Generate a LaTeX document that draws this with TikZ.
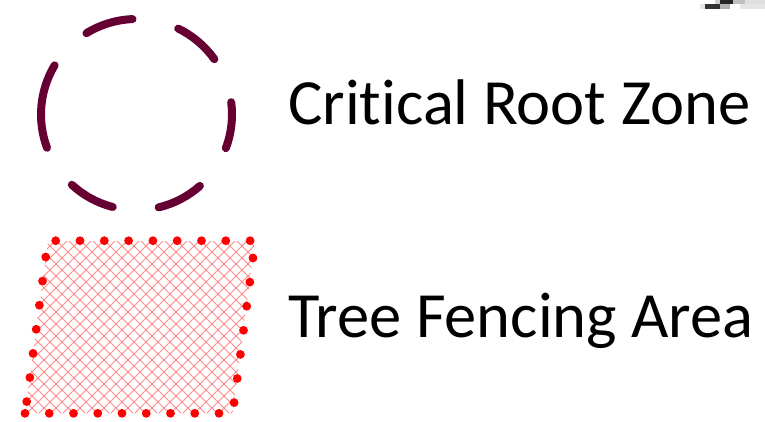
\documentclass[tikz,border=0pt]{standalone}
\usepackage{fontspec}
\setmainfont[RawFeature={-liga;-clig}]{Carlito}
\definecolor{maroon}{HTML}{660033}
\definecolor{dotred}{HTML}{FF0000}
\definecolor{hatch}{HTML}{FF8A8A}
\begin{document}
\begin{tikzpicture}[x=1pt,y=-1pt,
  zone/.style={draw=maroon,line width=8pt,line cap=round},
  fencedot/.style={fill=dotred},
  hatchline/.style={draw=hatch,line width=1pt},
  label/.style={anchor=base west,inner sep=0pt,font=\fontsize{64.5}{72}\selectfont}]
\useasboundingbox (0,0) rectangle (765,421);
% small grey smudge top right
\fill[gray!35] (715,0) rectangle (720,4);
\fill[black!85] (720,0) rectangle (733,4);
\fill[gray!50] (733,0) rectangle (745,4);
\fill[gray!25] (745,0) rectangle (765,4);
\fill[gray!20] (700,4) rectangle (705,9);
\fill[black!80] (705,4) rectangle (720,9);
\fill[gray!60] (720,4) rectangle (730,9);
\fill[gray!20] (740,4) rectangle (765,9);
% critical root zone circle
\coordinate (c) at (136.5,114.5);
\foreach \a/\b in {92.4/121.6, 35.4/64.1, -20.6/7.4, -76.6/-48.4, 227.4/255.6, 149/200.4}{
  \draw[zone] (c) ++(-\a:95.5) arc[start angle=-\a,end angle=-\b,radius=95.5];
}
% fencing area
\coordinate (A) at (48,241);
\coordinate (B) at (255,241);
\coordinate (C) at (232.6,413);
\coordinate (D) at (25,413);
\begin{scope}
\clip (A) -- (B) -- (C) -- (D) -- cycle;
\foreach \s in {260,272,...,680}{
  \draw[hatchline] (\s-240,240) -- (\s-420,420);
}
\foreach \s in {-400,-388,...,30}{
  \draw[hatchline] (\s+240,240) -- (\s+420,420);
}
\end{scope}
\foreach \k in {0,...,8}{
  \fill[fencedot] (55.7+24.3*\k,240.7) circle (4.4);
  \fill[fencedot] (25+24.25*\k,413.3) circle (4.4);
}
\foreach \k in {0,...,6}{
  \fill[fencedot] (253-3.15*\k,258+24.1*\k) circle (4.4);
  \fill[fencedot] (45.7-3.17*\k,257+24.1*\k) circle (4.4);
}
% labels
\node[label] (t1) at (288,124) {Critical Root Zone};
\node[label] (t2) at (288,337) {Tree Fencing Area};
\end{tikzpicture}
\end{document}
